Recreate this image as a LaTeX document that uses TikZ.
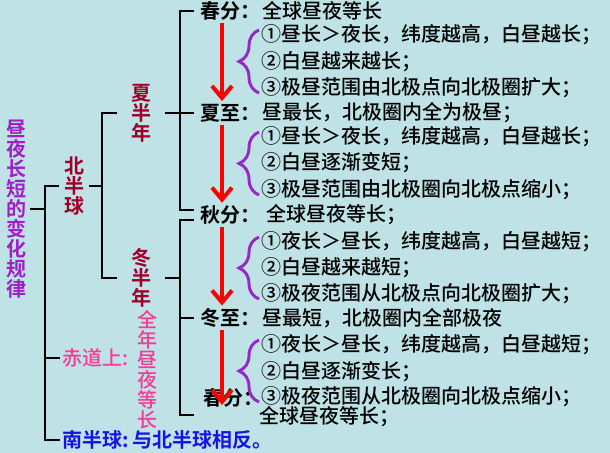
\documentclass[tikz,border=0pt]{standalone}
\usepackage{fontspec}
\setmainfont{Noto Sans CJK SC}[UprightFont=* Medium, BoldFont=* Bold]
\usetikzlibrary{positioning,calc,arrows.meta,decorations.pathreplacing}

\definecolor{bgblue}{RGB}{190,226,229}
\definecolor{rootpurple}{RGB}{160,32,200}
\definecolor{halfred}{RGB}{160,0,40}
\definecolor{eqpink}{RGB}{245,60,150}
\definecolor{southblue}{RGB}{20,20,230}
\definecolor{bracepurple}{RGB}{150,40,200}

\tikzset{
  every node/.style={inner sep=2pt, font=\fontsize{15}{15}\selectfont},
  tree/.style={line width=1.8pt},
  season/.style={anchor=west, inner xsep=5pt, font=\fontsize{15}{15}\selectfont\bfseries},
  body/.style={anchor=west},
  vtext/.style={align=center},
  redarr/.style={red, line width=3pt, -{Straight Barb[length=9pt,width=15pt]}},
  curly/.style={bracepurple, line width=2.2pt, decorate, decoration={brace, amplitude=15pt}},
}

\begin{document}
\begin{tikzpicture}[x=0.75pt,y=-0.75pt]
\fill[bgblue] (0,0) rectangle (610,453);
\useasboundingbox (0,0) rectangle (610,453);

% left part of the tree
\node[vtext, rootpurple, font=\fontsize{15}{15}\selectfont\bfseries] (root) at (17,209) {昼\\夜\\长\\短\\的\\变\\化\\规\\律};
\node[vtext, halfred, inner xsep=3.5pt, font=\fontsize{15}{15}\selectfont\bfseries] (bei) at (74,186) {北\\半\\球};
\node[vtext, halfred, inner xsep=10pt, font=\fontsize{15}{15}\selectfont\bfseries] (xia) at (141,113) {夏\\半\\年};
\node[vtext, halfred, inner xsep=10pt, font=\fontsize{15}{15}\selectfont\bfseries] (dong) at (141,278) {冬\\半\\年};
\node[body, eqpink, inner sep=0pt] (chidao) at (62,358) {赤道上:};
\node[vtext, eqpink, inner sep=0pt] (allyear) at (147,370) {全\\年\\昼\\夜\\等\\长};
\node[season, inner xsep=2pt, inner ysep=0pt, southblue] (nan) at (60,440) {南半球:\kern2pt 与北半球相反。};

% seasons
\node[season] (cf1) at (194,11) {春分：};
\node[body, right=-6pt of cf1] (cf1t) {全球昼夜等长};
\node[season] (xz) at (194,113) {夏至：};
\node[body, right=-6pt of xz] (xzt) {昼最长，北极圈内全为极昼；};
\node[season] (qf) at (194,215) {秋分：};
\node[body, right=-3pt of qf] (qft) {全球昼夜等长；};
\node[season] (dz) at (194,318) {冬至：};
\node[body, right=-6pt of dz] (dzt) {昼最短，北极圈内全部极夜};
\node[season] (cf2) at (197,398) {春分：};
\node[body] (cf2t) at (257,417) {全球昼夜等长；};

% items
\node[body] (a1) at (259,35) {①昼长＞夜长，纬度越高，白昼越长；};
\node[body] (a2) at (259,62) {②白昼越来越长；};
\node[body] (a3) at (259,88) {③极昼范围由北极点向北极圈扩大；};
\node[body] (b1) at (259,137) {①昼长＞夜长，纬度越高，白昼越长；};
\node[body] (b2) at (259,163) {②白昼逐渐变短；};
\node[body] (b3) at (259,190) {③极昼范围由北极圈向北极点缩小；};
\node[body] (c1) at (259,242) {①夜长＞昼长，纬度越高，白昼越短；};
\node[body] (c2) at (259,268) {②白昼越来越短；};
\node[body] (c3) at (259,294) {③极夜范围从北极点向北极圈扩大；};
\node[body] (d1) at (259,345) {①夜长＞昼长，纬度越高，白昼越短；};
\node[body] (d2) at (259,372) {②白昼逐渐变长；};
\node[body] (d3) at (259,397) {③极夜范围从北极圈向北极点缩小；};

% tree lines
\coordinate (bar1) at (45,209);
\coordinate (bar2) at (102,186);
\coordinate (bar3) at (180,113);
\coordinate (bar4) at (180,278);
\coordinate (end4) at (194,415);
\draw[tree] (root.east) -- (bar1);
\draw[tree] (bei.west) -| (bar1) |- (nan.west);
\draw[tree] ($(chidao.west)+(-2,0)$) -- (chidao.west -| bar1);
\draw[tree] (bei.east) -- (bar2);
\draw[tree] (xia.west) -| (bar2) |- (dong.west);
\draw[tree] (xia.east) -- (bar3);
\draw[tree] (cf1.west) -| (bar3) |- ($(qf.west)+(0,-5)$);
\draw[tree] (xz.west) -- (bar3);
\draw[tree] (dong.east) -- (bar4);
\draw[tree] ($(qf.west)+(0,5)$) -| (bar4) |- (end4);
\draw[tree] (dz.west) -- (dz.west -| bar4);

% braces
\draw[curly] ($(a3.west)+(0,5)$) -- ($(a1.west)+(0,-5)$);
\draw[curly] ($(b3.west)+(0,5)$) -- ($(b1.west)+(0,-5)$);
\draw[curly] ($(c3.west)+(0,5)$) -- ($(c1.west)+(0,-5)$);
\draw[curly] ($(d3.west)+(0,5)$) -- ($(d1.west)+(0,-5)$);

% red arrows
\coordinate (ax) at (222,0);
\coordinate (r4) at (222,405);
\draw[redarr] (cf1.south -| ax) -- (xz.north -| ax);
\draw[redarr] (xz.south -| ax) -- (qf.north -| ax);
\draw[redarr] (qf.south -| ax) -- (dz.north -| ax);
\draw[redarr] (dz.south -| ax) -- (r4);

\end{tikzpicture}
\end{document}
